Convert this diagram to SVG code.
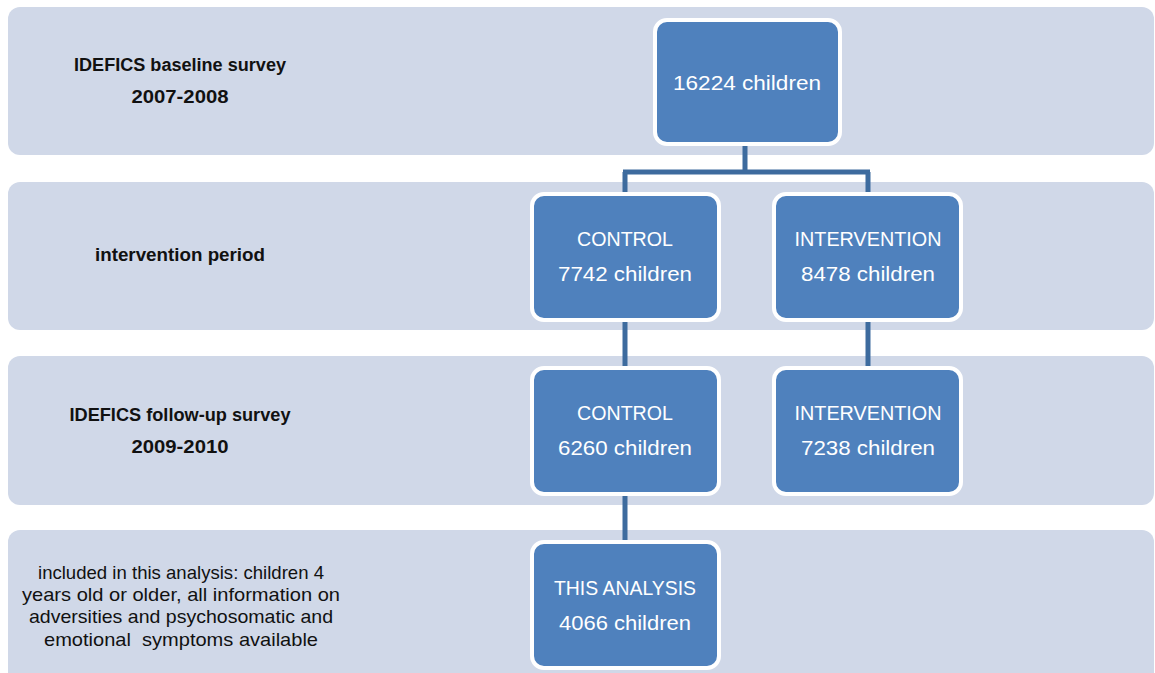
<svg xmlns="http://www.w3.org/2000/svg" width="1155" height="673" viewBox="0 0 1155 673">
<style>
.band{fill:#d0d8e8}
.node{fill:#4f81bd;stroke:#ffffff;stroke-width:4}
.nt{font-family:"Liberation Sans",Arial,sans-serif;font-size:21px;fill:#ffffff;text-anchor:middle}
.lt{font-family:"Liberation Sans",Arial,sans-serif;font-size:18px;fill:#111111;text-anchor:middle;font-weight:bold}
.st{font-family:"Liberation Sans",Arial,sans-serif;font-size:19px;fill:#111111;text-anchor:middle;white-space:pre}
.con{stroke:#3d6b9e;stroke-width:5;fill:none}
</style>
<rect width="1155" height="673" fill="#ffffff"/>
<g id="bands">
<rect class="band" x="8" y="7" width="1146" height="148" rx="12"/>
<rect class="band" x="8" y="182" width="1146" height="148" rx="12"/>
<rect class="band" x="8" y="356" width="1146" height="149" rx="12"/>
<rect class="band" x="8" y="530" width="1146" height="160" rx="12"/>
</g>
<g id="labels">
<text class="lt" x="180" y="71" textLength="212" lengthAdjust="spacingAndGlyphs">IDEFICS baseline survey</text>
<text class="lt" x="180" y="103" textLength="97" lengthAdjust="spacingAndGlyphs">2007-2008</text>
<text class="lt" x="180" y="261" textLength="170" lengthAdjust="spacingAndGlyphs">intervention period</text>
<text class="lt" x="180" y="421" textLength="221" lengthAdjust="spacingAndGlyphs">IDEFICS follow-up survey</text>
<text class="lt" x="180" y="453" textLength="97" lengthAdjust="spacingAndGlyphs">2009-2010</text>
<text class="st" x="181" y="579" textLength="286" lengthAdjust="spacingAndGlyphs">included in this analysis: children 4</text>
<text class="st" x="181" y="601" textLength="318" lengthAdjust="spacingAndGlyphs">years old or older, all information on</text>
<text class="st" x="181" y="623" textLength="304" lengthAdjust="spacingAndGlyphs">adversities and psychosomatic and</text>
<text class="st" x="181" y="646" textLength="274" lengthAdjust="spacingAndGlyphs" xml:space="preserve">emotional  symptoms available</text>
</g>
<g id="connectors">
<path class="con" d="M745,145 V172 M623,172 H870 M625,172 V194 M868,172 V194"/>
<path class="con" d="M625,320 V368"/>
<path class="con" d="M868,320 V368"/>
<path class="con" d="M625,494 V541"/>
</g>
<g id="n16224">
<rect class="node" x="655" y="20" width="185" height="124" rx="12"/>
<text class="nt" x="747" y="90" textLength="148" lengthAdjust="spacingAndGlyphs">16224 children</text>
</g>
<g id="control1">
<rect class="node" x="532" y="194" width="187" height="126" rx="12"/>
<text class="nt" x="625" y="246" textLength="96" lengthAdjust="spacingAndGlyphs">CONTROL</text>
<text class="nt" x="625" y="281" textLength="134" lengthAdjust="spacingAndGlyphs">7742 children</text>
</g>
<g id="intervention1">
<rect class="node" x="774" y="194" width="187" height="126" rx="12"/>
<text class="nt" x="868" y="246" textLength="147" lengthAdjust="spacingAndGlyphs">INTERVENTION</text>
<text class="nt" x="868" y="281" textLength="134" lengthAdjust="spacingAndGlyphs">8478 children</text>
</g>
<g id="control2">
<rect class="node" x="532" y="368" width="187" height="126" rx="12"/>
<text class="nt" x="625" y="420" textLength="96" lengthAdjust="spacingAndGlyphs">CONTROL</text>
<text class="nt" x="625" y="455" textLength="134" lengthAdjust="spacingAndGlyphs">6260 children</text>
</g>
<g id="intervention2">
<rect class="node" x="774" y="368" width="187" height="126" rx="12"/>
<text class="nt" x="868" y="420" textLength="147" lengthAdjust="spacingAndGlyphs">INTERVENTION</text>
<text class="nt" x="868" y="455" textLength="134" lengthAdjust="spacingAndGlyphs">7238 children</text>
</g>
<g id="analysis">
<rect class="node" x="532" y="542" width="187" height="126" rx="12"/>
<text class="nt" x="625" y="595" textLength="142" lengthAdjust="spacingAndGlyphs">THIS ANALYSIS</text>
<text class="nt" x="625" y="630" textLength="132" lengthAdjust="spacingAndGlyphs">4066 children</text>
</g>
</svg>
